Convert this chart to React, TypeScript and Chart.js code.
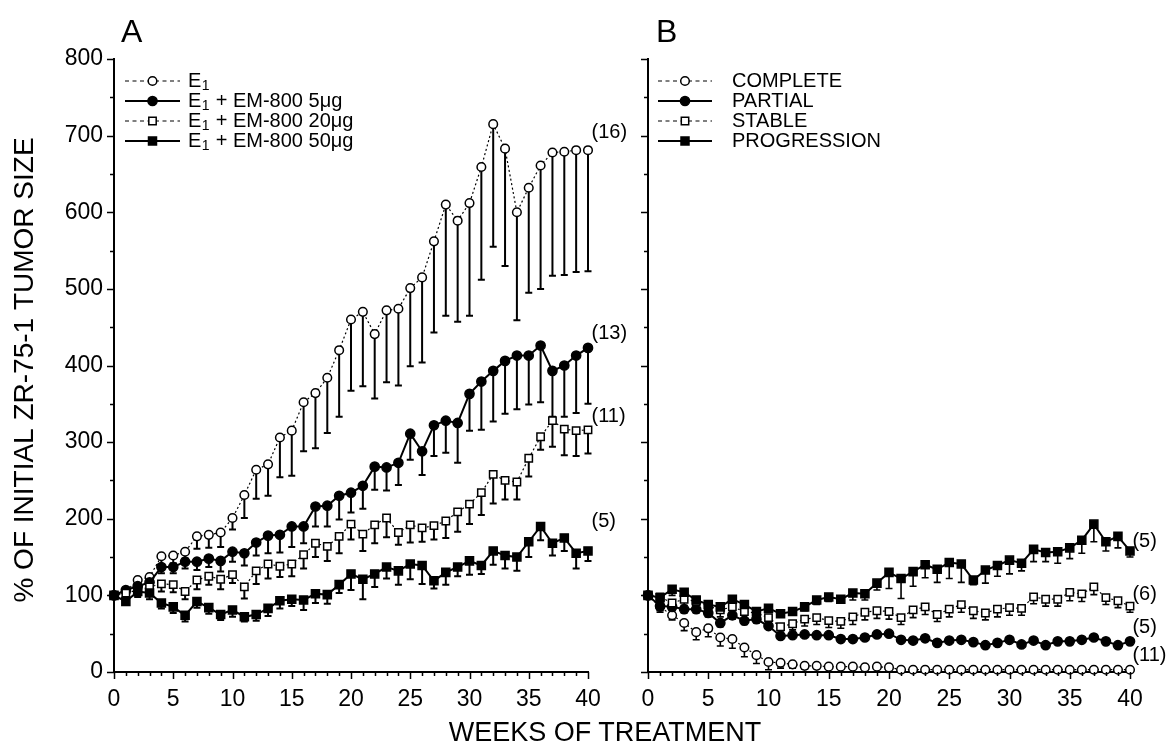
import React, { useEffect, useRef } from 'react';
import { Chart, registerables } from 'chart.js';
Chart.register(...registerables);

const FONT = "'Liberation Sans', Arial, Helvetica, sans-serif";

const WEEKS = [0, 1, 2, 3, 4, 5, 6, 7, 8, 9, 10, 11, 12, 13, 14, 15, 16, 17, 18, 19, 20, 21, 22, 23, 24, 25, 26, 27, 28, 29, 30, 31, 32, 33, 34, 35, 36, 37, 38, 39, 40];
const X_TICKS = [0, 5, 10, 15, 20, 25, 30, 35, 40];
const Y_TICKS = [0, 100, 200, 300, 400, 500, 600, 700, 800];

// Panel A
const A_LABELS = ['E₁', 'E₁ + EM-800 5μg', 'E₁ + EM-800 20μg', 'E₁ + EM-800 50μg'];
const A_E1 = [100, 105, 120, 124, 151, 152, 157, 177, 179, 182, 201, 231, 264, 271, 306, 315, 352, 364, 384, 420, 460, 470, 441, 472, 474, 501, 515, 562, 610, 589, 612, 659, 715, 683, 600, 632, 661, 678, 679, 681, 681];
const A_E1_LOW = [100, 103, 113, 118, 140, 142, 148, 161, 162, 163, 186, 201, 226, 230, 254, 256, 288, 292, 312, 333, 367, 373, 357, 378, 374, 399, 404, 443, 465, 457, 465, 512, 555, 530, 459, 495, 500, 517, 518, 522, 523];
const A_5 = [100, 107, 112, 117, 137, 137, 144, 144, 148, 145, 157, 155, 169, 178, 179, 190, 190, 216, 217, 230, 234, 243, 268, 267, 273, 311, 288, 322, 328, 325, 363, 379, 393, 406, 413, 413, 426, 393, 400, 413, 423];
const A_5_LOW = [100, 103, 106, 110, 129, 129, 135, 133, 137, 131, 144, 139, 152, 155, 156, 163, 168, 190, 190, 199, 208, 213, 238, 237, 244, 277, 257, 282, 286, 273, 315, 316, 327, 337, 343, 349, 352, 333, 333, 338, 350];
const A_20 = [100, 103, 107, 111, 115, 114, 105, 120, 125, 121, 127, 111, 132, 141, 138, 141, 153, 168, 164, 177, 193, 180, 192, 201, 182, 192, 188, 191, 197, 209, 219, 234, 258, 250, 248, 279, 307, 328, 317, 315, 316];
const A_20_LOW = [100, 100, 100, 103, 105, 104, 95, 108, 114, 108, 116, 96, 115, 122, 124, 125, 135, 150, 145, 155, 173, 158, 168, 176, 166, 169, 170, 173, 175, 183, 193, 205, 220, 225, 225, 255, 290, 294, 283, 282, 285];
const A_50 = [100, 92, 105, 103, 90, 85, 74, 92, 84, 75, 81, 72, 75, 83, 93, 95, 94, 102, 101, 114, 128, 121, 128, 137, 132, 141, 139, 119, 130, 137, 145, 139, 158, 152, 150, 170, 190, 168, 175, 155, 158];
const A_50_LOW = [100, 88, 98, 95, 83, 77, 66, 84, 76, 68, 72, 66, 67, 73, 83, 86, 81, 90, 89, 103, 107, 95, 111, 122, 114, 121, 115, 109, 114, 125, 127, 128, 140, 135, 132, 150, 172, 152, 158, 135, 145];
const A_N = ['(16)', '(13)', '(11)', '(5)'];
const A_N_Y = [704, 442, 334, 196];

// Panel B
const B_LABELS = ['COMPLETE', 'PARTIAL', 'STABLE', 'PROGRESSION'];
const B_COMPLETE = [100, 85, 74, 64, 52, 57, 45, 43, 32, 22, 13, 12, 10, 8, 8, 7, 7, 7, 6, 7, 6, 3, 3, 3, 3, 3, 3, 3, 3, 3, 3, 3, 3, 3, 3, 3, 3, 3, 3, 3, 3];
const B_COMPLETE_LOW = [100, 78, 68, 54, 42, 46, 34, 31, 20, 11, 3, 5, 5, 4, 6, 6, 6, 6, 5, 6, 5, 3, 3, 3, 3, 3, 3, 3, 3, 3, 3, 3, 3, 3, 3, 3, 3, 3, 3, 3, 3];
const B_PARTIAL = [100, 86, 85, 82, 82, 77, 64, 74, 67, 69, 60, 47, 48, 49, 48, 48, 43, 43, 45, 49, 50, 42, 41, 44, 38, 41, 42, 39, 35, 38, 42, 36, 41, 35, 40, 40, 42, 45, 40, 35, 40];
const B_PARTIAL_LOW = [100, 80, 80, 77, 77, 72, 59, 69, 62, 64, 56, 44, 46, 47, 46, 46, 41, 41, 43, 47, 48, 40, 39, 42, 36, 39, 40, 37, 33, 36, 40, 34, 39, 33, 38, 38, 40, 43, 38, 33, 38];
const B_STABLE = [100, 98, 90, 95, 92, 86, 81, 85, 79, 77, 71, 59, 63, 69, 71, 67, 66, 72, 78, 80, 79, 71, 81, 85, 75, 82, 88, 80, 77, 82, 84, 83, 98, 95, 95, 104, 102, 111, 97, 93, 86];
const B_STABLE_LOW = [100, 92, 82, 87, 84, 78, 72, 76, 70, 68, 62, 52, 55, 60, 62, 58, 57, 62, 68, 70, 69, 62, 71, 75, 66, 72, 78, 70, 68, 72, 74, 74, 89, 86, 86, 93, 92, 101, 88, 84, 78];
const B_PROG = [100, 97, 108, 104, 94, 88, 85, 95, 88, 79, 83, 76, 79, 85, 94, 98, 95, 103, 102, 116, 130, 122, 131, 140, 134, 143, 141, 120, 133, 139, 146, 142, 160, 156, 157, 162, 172, 193, 170, 177, 158];
const B_PROG_LOW = [100, 97, 100, 98, 90, 84, 80, 89, 84, 75, 79, 72, 75, 80, 88, 92, 90, 94, 94, 107, 109, 96, 112, 123, 117, 122, 117, 114, 116, 125, 128, 132, 144, 144, 142, 148, 155, 170, 158, 162, 150];
const B_N = ['(5)', '(6)', '(5)', '(11)'];
const B_N_Y = [170, 101, 58, 21];

type Style = { shape: 'circle' | 'rect'; filled: boolean; dashed: boolean };
const STYLES: Style[] = [
  { shape: 'circle', filled: false, dashed: true },
  { shape: 'circle', filled: true, dashed: false },
  { shape: 'rect', filled: false, dashed: true },
  { shape: 'rect', filled: true, dashed: false },
];

function makeDataset(label: string, vals: number[], low: number[], st: Style, errWidth: number) {
  return {
    label,
    data: vals.map((v, i) => ({ x: WEEKS[i], y: v })),
    errLow: low,
    errWidth,
    borderColor: '#000',
    borderWidth: st.dashed ? 1.2 : 2,
    borderDash: st.dashed ? [2, 2.5] : [],
    pointStyle: st.shape,
    pointRadius: st.shape === 'rect' ? (st.filled ? 5.7 : 5.2) : st.filled ? 4.6 : 4.3,
    pointBorderWidth: 1.5,
    pointBackgroundColor: st.filled ? '#000' : '#fff',
    pointBorderColor: '#000',
    tension: 0,
    clip: false as any,
    fill: false,
  };
}

const errorBarPlugin = {
  id: 'errorBars',
  beforeDatasetsDraw(chart: any) {
    const { ctx, scales } = chart;
    const x = scales.x, y = scales.y;
    chart.data.datasets.forEach((ds: any) => {
      const low: number[] = ds.errLow;
      if (!low) return;
      ctx.save();
      ctx.strokeStyle = '#000';
      ctx.lineWidth = ds.errWidth;
      ctx.setLineDash([]);
      ds.data.forEach((p: any, j: number) => {
        const lo = low[j];
        if (lo == null || p.y - lo < 3) return;
        const px = x.getPixelForValue(p.x);
        const py = y.getPixelForValue(p.y);
        const pl = y.getPixelForValue(lo);
        ctx.beginPath();
        ctx.moveTo(px, py);
        ctx.lineTo(px, pl);
        ctx.moveTo(px - 3.5, pl);
        ctx.lineTo(px + 3.5, pl);
        ctx.stroke();
      });
      ctx.restore();
    });
  },
};

const tickMarksPlugin = {
  id: 'tickMarks',
  afterDraw(chart: any) {
    const { ctx, chartArea, scales } = chart;
    const x = scales.x, y = scales.y;
    ctx.save();
    ctx.strokeStyle = '#000';
    ctx.lineWidth = 1.5;
    ctx.beginPath();
    WEEKS.forEach((w) => {
      const px = Math.round(x.getPixelForValue(w)) + 0.5;
      const len = X_TICKS.includes(w) ? 7 : 4;
      ctx.moveTo(px, chartArea.bottom);
      ctx.lineTo(px, chartArea.bottom + len);
    });
    Y_TICKS.forEach((v) => {
      const py = Math.round(y.getPixelForValue(v)) + 0.5;
      ctx.moveTo(chartArea.left, py);
      ctx.lineTo(chartArea.left - 7, py);
      if (v < 800) {
        const pm = Math.round(y.getPixelForValue(v + 50)) + 0.5;
        ctx.moveTo(chartArea.left, pm);
        ctx.lineTo(chartArea.left - 4, pm);
      }
    });
    ctx.stroke();
    ctx.restore();
  },
};

function drawLabelText(ctx: CanvasRenderingContext2D, text: string, x: number, y: number, size: number) {
  let cx = x;
  const parts = text.split('₁');
  parts.forEach((part, i) => {
    ctx.font = `${size}px ${FONT}`;
    ctx.textBaseline = 'middle';
    ctx.fillText(part, cx, y);
    cx += ctx.measureText(part).width;
    if (i < parts.length - 1) {
      ctx.font = `${Math.round(size * 0.68)}px ${FONT}`;
      ctx.fillText('1', cx + 0.5, y + 5);
      cx += ctx.measureText('1').width + 1;
    }
  });
}

const decorPlugin = {
  id: 'decor',
  afterDraw(chart: any, _args: any, opts: any) {
    const { ctx, scales } = chart;
    ctx.save();
    ctx.fillStyle = '#000';
    // panel letter
    ctx.font = `32px ${FONT}`;
    ctx.textBaseline = 'alphabetic';
    ctx.textAlign = 'left';
    ctx.fillText(opts.letter, opts.letterX, 42);
    // legend
    opts.labels.forEach((lab: string, i: number) => {
      const st: Style = STYLES[i];
      const cy = opts.legendY[i];
      ctx.save();
      ctx.strokeStyle = '#000';
      ctx.lineWidth = st.dashed ? 1.2 : 2;
      ctx.setLineDash(st.dashed ? [4, 3.5] : []);
      ctx.beginPath();
      ctx.moveTo(opts.lineX0, cy);
      ctx.lineTo(opts.lineX1, cy);
      ctx.stroke();
      ctx.setLineDash([]);
      const mx = (opts.lineX0 + opts.lineX1) / 2;
      ctx.lineWidth = 1.5;
      ctx.fillStyle = st.filled ? '#000' : '#fff';
      ctx.beginPath();
      if (st.shape === 'circle') {
        ctx.arc(mx, cy, st.filled ? 4.6 : 4.3, 0, Math.PI * 2);
      } else {
        const s = st.filled ? 4 : 3.7;
        ctx.rect(mx - s, cy - s, 2 * s, 2 * s);
      }
      ctx.fill();
      ctx.stroke();
      ctx.restore();
      ctx.fillStyle = '#000';
      ctx.textAlign = 'left';
      drawLabelText(ctx, lab, opts.textX, cy, 20);
    });
    // n labels
    ctx.font = `20px ${FONT}`;
    ctx.textBaseline = 'middle';
    ctx.textAlign = 'left';
    opts.nLabels.forEach((t: string, i: number) => {
      ctx.fillText(t, scales.x.getPixelForValue(opts.nX), scales.y.getPixelForValue(opts.nY[i]));
    });
    // y title
    if (opts.yTitle) {
      ctx.save();
      ctx.translate(25, 370);
      ctx.rotate(-Math.PI / 2);
      ctx.font = `28px ${FONT}`;
      ctx.textAlign = 'center';
      ctx.textBaseline = 'middle';
      ctx.fillText(opts.yTitle, 0, 0);
      ctx.restore();
    }
    ctx.restore();
  },
};

function makeConfig(panel: 'A' | 'B') {
  const isA = panel === 'A';
  const datasets = isA
    ? [
        makeDataset(A_LABELS[0], A_E1, A_E1_LOW, STYLES[0], 2),
        makeDataset(A_LABELS[1], A_5, A_5_LOW, STYLES[1], 2),
        makeDataset(A_LABELS[2], A_20, A_20_LOW, STYLES[2], 2),
        makeDataset(A_LABELS[3], A_50, A_50_LOW, STYLES[3], 2),
      ]
    : [
        makeDataset(B_LABELS[0], B_COMPLETE, B_COMPLETE_LOW, STYLES[0], 1.6),
        makeDataset(B_LABELS[1], B_PARTIAL, B_PARTIAL_LOW, STYLES[1], 1.6),
        makeDataset(B_LABELS[2], B_STABLE, B_STABLE_LOW, STYLES[2], 1.6),
        makeDataset(B_LABELS[3], B_PROG, B_PROG_LOW, STYLES[3], 1.6),
      ];
  return {
    type: 'line' as const,
    data: { datasets: datasets.slice().reverse() as any },
    plugins: [errorBarPlugin, tickMarksPlugin, decorPlugin],
    options: {
      animation: false as const,
      responsive: false,
      maintainAspectRatio: false,
      layout: { padding: { top: 59, right: isA ? 52 : 37, left: 0, bottom: 0 } },
      scales: {
        x: {
          type: 'linear' as const,
          min: 0,
          max: 40,
          afterFit: (s: any) => { s.height = 79; },
          afterBuildTicks: (s: any) => { s.ticks = X_TICKS.map((v) => ({ value: v })); },
          grid: { display: false, drawTicks: false },
          border: { display: true, color: '#000', width: 2 },
          ticks: { color: '#000', font: { family: FONT, size: 23 }, padding: 14, autoSkip: false, maxRotation: 0 },
        },
        y: {
          type: 'linear' as const,
          min: 0,
          max: 800,
          afterFit: (s: any) => { s.width = isA ? 114 : 48; },
          afterBuildTicks: (s: any) => { s.ticks = Y_TICKS.map((v) => ({ value: v })); },
          grid: { display: false, drawTicks: false },
          border: { display: true, color: '#000', width: 2 },
          ticks: { display: isA, color: '#000', font: { family: FONT, size: 23 }, padding: 11 },
        },
      },
      plugins: {
        legend: { display: false },
        tooltip: { enabled: false },
        decor: isA
          ? {
              letter: 'A', letterX: 121, labels: A_LABELS, legendY: [81, 101, 121, 141],
              lineX0: 125, lineX1: 180, textX: 188,
              nLabels: A_N, nY: A_N_Y, nX: 40.3, yTitle: '% OF INITIAL ZR-75-1 TUMOR SIZE',
            }
          : {
              letter: 'B', letterX: 56, labels: B_LABELS, legendY: [81, 101, 121, 141],
              lineX0: 58, lineX1: 112, textX: 132,
              nLabels: B_N, nY: B_N_Y, nX: 40.2, yTitle: '',
            },
      },
    },
  };
}

function Panel({ panel, left, width }: { panel: 'A' | 'B'; left: number; width: number }) {
  const ref = useRef<HTMLCanvasElement>(null);
  useEffect(() => {
    if (!ref.current) return;
    const chart = new Chart(ref.current, makeConfig(panel) as any);
    return () => chart.destroy();
  }, [panel]);
  return (
    <canvas
      ref={ref}
      width={width}
      height={751}
      style={{ position: 'absolute', left, top: 0, width, height: 751 }}
    />
  );
}

export default function App() {
  return (
    <div style={{ position: 'fixed', left: 0, top: 0, width: 1167, height: 751, background: '#fff', overflow: 'hidden' }}>
      <Panel panel="A" left={0} width={640} />
      <Panel panel="B" left={600} width={567} />
      <div
        style={{
          position: 'absolute', left: 405, width: 400, top: 716, textAlign: 'center',
          fontFamily: FONT, fontSize: 27, color: '#000', lineHeight: '32px', whiteSpace: 'nowrap',
        }}
      >
        WEEKS OF TREATMENT
      </div>
    </div>
  );
}
